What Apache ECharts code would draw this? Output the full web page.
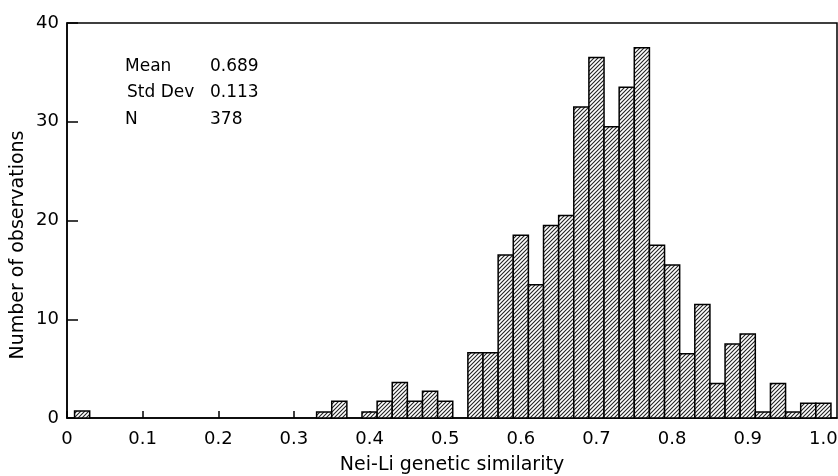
<!DOCTYPE html>
<html>
<head>
<meta charset="utf-8">
<script src="https://cdn.jsdelivr.net/npm/echarts@6/dist/echarts.min.js"></script>
<style>
html, body { margin: 0; padding: 0; background: #fff; }
#chart { width: 838px; height: 476px; }
</style>
</head>
<body>
<div id="chart"></div>
<script>
// bin centres (width 0.02) and heights
var binWidth = 0.02;
var binCenters = [];
for (var k = 1; k <= 50; k++) binCenters.push(+(k * binWidth).toFixed(2));
var counts = [
    0.7, 0, 0, 0, 0, 0, 0, 0, 0, 0,
    0, 0, 0, 0, 0, 0, 0.6, 1.7, 0, 0.6,
    1.7, 3.6, 1.7, 2.7, 1.7, 0, 6.6, 6.6, 16.5, 18.5,
    13.5, 19.5, 20.5, 31.5, 36.5, 29.5, 33.5, 37.5, 17.5, 15.5,
    6.5, 11.5, 3.5, 7.5, 8.5, 0.6, 3.5, 0.6, 1.5, 1.5
];
var statNames = ['Mean', 'Std Dev', 'N'];
var statValues = ['0.689', '0.113', '378'];

var font = 'DejaVu Sans';

// diagonal hatch fill
var tile = document.createElement('canvas');
tile.width = 4;
tile.height = 4;
var ctx = tile.getContext('2d');
ctx.fillStyle = '#fff';
ctx.fillRect(0, 0, 4, 4);
ctx.strokeStyle = '#222';
ctx.lineWidth = 1.1;
ctx.beginPath();
ctx.moveTo(-1, 5); ctx.lineTo(5, -1);
ctx.moveTo(-1, 1); ctx.lineTo(1, -1);
ctx.moveTo(3, 5); ctx.lineTo(5, 3);
ctx.stroke();
var hatch = { image: tile, repeat: 'repeat' };

var data = [];
binCenters.forEach(function (c, i) {
    if (counts[i] > 0) data.push([c, counts[i]]);
});

var graphics = [];
statNames.forEach(function (n, i) {
    var y = 68 + i * 26.5;
    graphics.push({
        type: 'text', left: i === 1 ? 127 : 125, top: y - 10,
        style: { text: n, font: '17px "' + font + '"', fill: '#000' }
    });
    graphics.push({
        type: 'text', left: 210, top: y - 10,
        style: { text: statValues[i], font: '17px "' + font + '"', fill: '#000' }
    });
});
graphics.push({
    type: 'text', x: 18, y: 245, rotation: Math.PI / 2,
    style: {
        text: 'Number of observations', font: '19px "' + font + '"', fill: '#000',
        align: 'center', verticalAlign: 'middle'
    }
});

var myChart = echarts.init(document.getElementById('chart'));
var option = {
    animation: false,
    grid: {
        left: 67, right: 1, top: 23, bottom: 58,
        outerBoundsMode: 'none',
        containLabel: false,
        show: true, borderColor: '#000', borderWidth: 1.5
    },
    graphic: graphics,
    xAxis: {
        type: 'value',
        min: 0,
        max: 1.018,
        interval: 0.1,
        name: 'Nei-Li genetic similarity',
        nameLocation: 'middle',
        nameGap: 38,
        nameTextStyle: { fontFamily: font, fontSize: 19, color: '#000' },
        axisLine: { lineStyle: { color: '#000', width: 1.5 } },
        axisTick: { inside: true, length: 7, lineStyle: { color: '#000', width: 1.5 } },
        axisLabel: {
            color: '#000', fontFamily: font, fontSize: 18, margin: 12,
            showMaxLabel: false,
            formatter: function (v) {
                if (Math.abs(v * 10 - Math.round(v * 10)) > 1e-6) return '';
                return v === 0 ? '0' : v.toFixed(1);
            }
        },
        splitLine: { show: false }
    },
    yAxis: {
        type: 'value',
        min: 0,
        max: 40,
        interval: 10,
        axisLine: { show: true, lineStyle: { color: '#000', width: 1.5 } },
        axisTick: { show: true, inside: true, length: 11, lineStyle: { color: '#000', width: 1.5 } },
        axisLabel: { color: '#000', fontFamily: font, fontSize: 18, margin: 8 },
        splitLine: { show: false }
    },
    series: [{
        type: 'custom',
        data: data,
        encode: { x: 0, y: 1 },
        renderItem: function (params, api) {
            var x = api.value(0), y = api.value(1);
            var p0 = api.coord([x - binWidth / 2, y]);
            var p1 = api.coord([x + binWidth / 2, 0]);
            return {
                type: 'rect',
                shape: { x: p0[0], y: p0[1], width: p1[0] - p0[0], height: p1[1] - p0[1] },
                style: { fill: hatch, stroke: '#000', lineWidth: 1.5 }
            };
        }
    }]
};
myChart.setOption(option);
</script>
</body>
</html>
